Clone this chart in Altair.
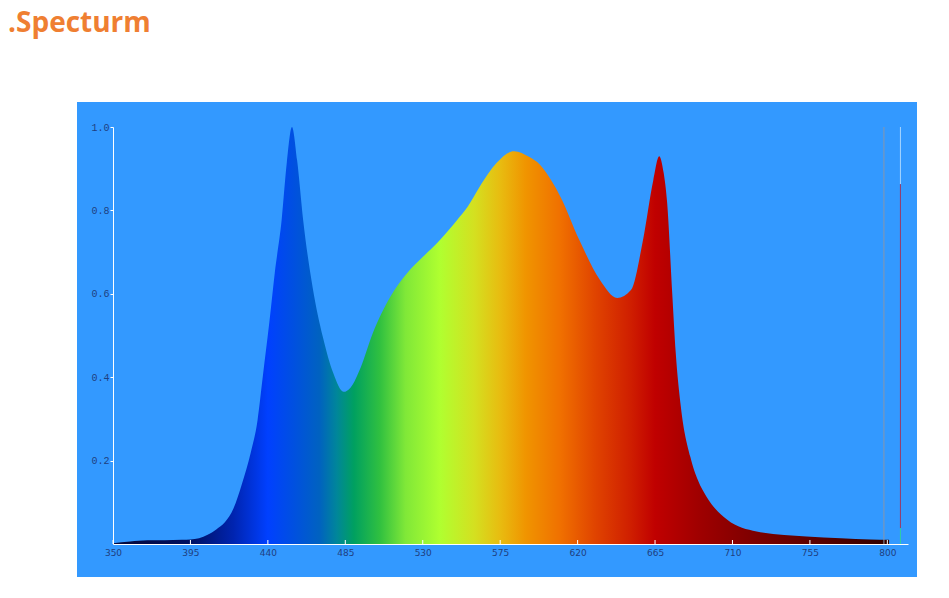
import altair as alt
import pandas as pd

# ---- data ----
wavelength = [350, 360, 370, 380, 390, 400, 405, 410, 415, 420, 425, 430, 434, 437, 441, 444, 448, 451, 454,
              457, 460.5, 466, 472, 478, 484, 488, 494, 501, 511, 521, 530, 540, 550, 556,
              563, 573, 583, 592, 598, 605, 610, 621, 633, 643, 651, 658, 664, 667.4, 670,
              672, 675, 677, 680, 685.5, 690, 695, 707, 724, 753, 773, 790, 801]
intensity = [0.002, 0.006, 0.009, 0.009, 0.010, 0.014, 0.022, 0.035, 0.052, 0.085, 0.145, 0.218, 0.297,
             0.40, 0.537, 0.65, 0.777, 0.915, 1.0, 0.92, 0.777, 0.616, 0.496, 0.41, 0.365, 0.375, 0.424,
             0.506, 0.592, 0.65, 0.688, 0.729, 0.777, 0.808, 0.856, 0.914, 0.942, 0.928, 0.91,
             0.87, 0.833, 0.729, 0.633, 0.59, 0.609, 0.729, 0.873, 0.93, 0.89, 0.82, 0.6,
             0.46, 0.329, 0.209, 0.152, 0.113, 0.058, 0.03, 0.018, 0.014, 0.011, 0.01]

x_ticks = [350, 395, 440, 485, 530, 575, 620, 665, 710, 755, 800]
y_ticks = [0.2, 0.4, 0.6, 0.8, 1.0]

# colour of the spectrum by wavelength
grad_wl = [350, 395, 420, 440, 455, 470, 480, 490, 505, 520, 540, 560, 575, 590, 610, 630, 650, 665, 690, 720, 760, 801]
grad_col = ["#05083a", "#001060", "#0024b0", "#0040ff", "#0050e0", "#0062c0", "#00869a", "#00a060",
            "#30c040", "#80e838", "#b0ff30", "#d4e020", "#e8bc10", "#f09400", "#f07000", "#e04400",
            "#d02000", "#c00000", "#a00000", "#800000", "#5a0000", "#300000"]

# marker lines at the right edge
mark_wl = [798, 807.6, 807.6, 807.6]
mark_lo = [0.0, 0.863, 0.038, 0.0]
mark_hi = [1.0, 1.0, 0.863, 0.038]
mark_col = ["#8796ab", "#a8d6ff", "#9a3a66", "#30d0a0"]

TITLE = ".Specturm"
PANEL = "#3399ff"
LABEL = "#1f3f80"

W, H = 795, 417
lo, hi = grad_wl[0], grad_wl[-1]
stops = [alt.GradientStop(color=c, offset=(w - lo) / (hi - lo)) for w, c in zip(grad_wl, grad_col)]

spec = pd.DataFrame({"wl": wavelength, "v": intensity})
ticks_df = pd.DataFrame({"wl": x_ticks})
marks_df = pd.DataFrame({"wl": mark_wl, "v": mark_lo, "v2": mark_hi, "c": mark_col})
one = pd.DataFrame({"a": [0]})

xscale = alt.Scale(domain=[350, 812], nice=False, zero=False)
yscale = alt.Scale(domain=[0, 1], nice=False, zero=True)
X = alt.X("wl:Q", scale=xscale, title=None,
          axis=alt.Axis(values=x_ticks, grid=False, ticks=False, domainColor="white",
                        domainWidth=1, labelColor=LABEL, labelFont="DejaVu Sans",
                        labelFontSize=9, labelPadding=4, labelFlush=False, labelOverlap=False,
                        zindex=2))
Y = alt.Y("v:Q", scale=yscale, title=None,
          axis=alt.Axis(values=y_ticks, format=".1f", grid=False, tickColor="white", tickSize=3,
                        domainColor="white", labelColor=LABEL, labelFont="Liberation Mono",
                        labelFontSize=10, labelPadding=1, labelFlush=False, zindex=2))

panel = alt.Chart(one).mark_rect(color=PANEL).encode(
    x=alt.value(-36), x2=alt.value(804), y=alt.value(-25), y2=alt.value(450))

title = alt.Chart(one).mark_text(text=TITLE, align="left", baseline="alphabetic", fontSize=28,
                                 fontWeight="bold", font="Open Sans", color="#ef7f32").encode(
    x=alt.value(-105), y=alt.value(-95))

area = alt.Chart(spec).mark_area(
    interpolate="monotone",
    fill=alt.Gradient(gradient="linear", stops=stops, x1=0, x2=1, y1=0, y2=0),
).encode(x=X, y=Y)

xt = alt.Chart(ticks_df).mark_rule(color="white", strokeWidth=1).encode(
    x=X, y=alt.value(H), y2=alt.value(H - 4))

lines = alt.Chart(marks_df).mark_rule(strokeWidth=1).encode(
    x=X, y=Y, y2="v2:Q", color=alt.Color("c:N", scale=None))

chart = alt.layer(panel, title, area, xt, lines).properties(
    width=W, height=H,
    autosize=alt.AutoSizeParams(type="none"),
    padding={"left": 105, "top": 119, "right": 20, "bottom": 40},
).configure_view(stroke=None)

chart.save("out.html", embed_options={"renderer": "svg", "actions": False})
